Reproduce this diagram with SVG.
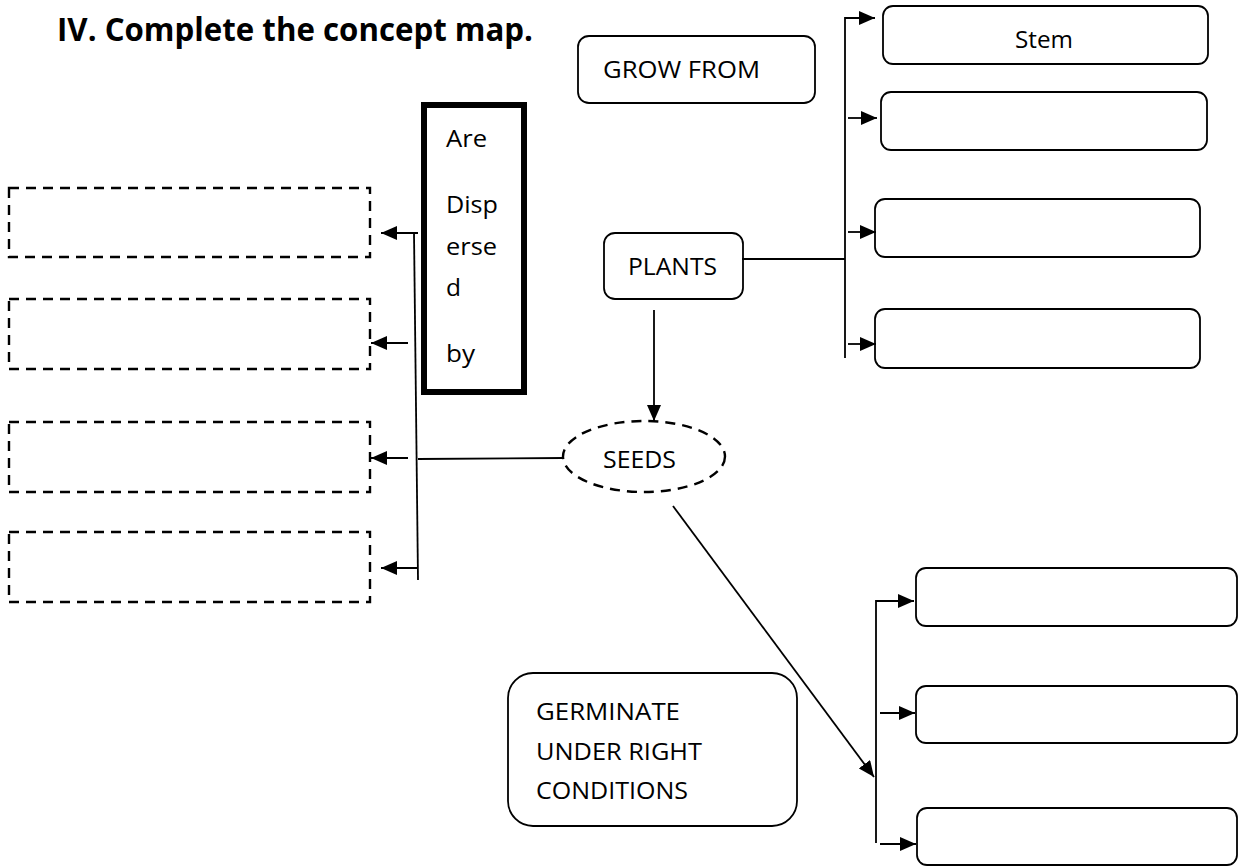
<svg xmlns="http://www.w3.org/2000/svg" width="1238" height="868" viewBox="0 0 1238 868">
<defs>
<style>
.t{font-family:"Open Sans","Liberation Sans",sans-serif;font-size:24.5px;fill:#000}
.title{font-family:"Open Sans","Liberation Sans",sans-serif;font-size:32px;font-weight:bold;fill:#000}
.box{fill:#fff;stroke:#000;stroke-width:1.8}
.dash{fill:none;stroke:#000;stroke-width:2.4;stroke-dasharray:10 7}
.ln{fill:none;stroke:#000;stroke-width:1.8}
</style>
<marker id="ah" viewBox="0 0 16 14" refX="16" refY="7" markerWidth="16" markerHeight="14" markerUnits="userSpaceOnUse" orient="auto">
<path d="M0,0 L16,7 L0,14 Z" fill="#000"/>
</marker>
</defs>
<rect width="1238" height="868" fill="#fff"/>
<text class="title" x="57" y="41" textLength="476" lengthAdjust="spacingAndGlyphs">IV. Complete the concept map.</text>

<g id="grow-from"><rect class="box" x="578" y="36" width="237" height="67" rx="11"/><text class="t" x="603" y="78" textLength="157" lengthAdjust="spacingAndGlyphs">GROW FROM</text></g>
<g id="stem"><rect class="box" x="883" y="6" width="325" height="58" rx="10"/><text class="t" x="1044" y="48" text-anchor="middle" textLength="58" lengthAdjust="spacingAndGlyphs">Stem</text></g>
<g id="part2"><rect class="box" x="881" y="92" width="326" height="58" rx="10"/></g>
<g id="part3"><rect class="box" x="875" y="199" width="325" height="58" rx="10"/></g>
<g id="part4"><rect class="box" x="875" y="309" width="325" height="59" rx="10"/></g>
<g id="plants"><rect class="box" x="604" y="233" width="139" height="66" rx="11"/><text class="t" x="628" y="275" textLength="89" lengthAdjust="spacingAndGlyphs">PLANTS</text></g>
<g id="dispersed"><rect x="424" y="105" width="100" height="287" fill="#fff" stroke="#000" stroke-width="6"/>
<text class="t" x="446" y="147" textLength="41" lengthAdjust="spacingAndGlyphs">Are</text>
<text class="t" x="446" y="213" textLength="52" lengthAdjust="spacingAndGlyphs">Disp</text>
<text class="t" x="446" y="255" textLength="51" lengthAdjust="spacingAndGlyphs">erse</text>
<text class="t" x="446" y="296">d</text>
<text class="t" x="446" y="362" textLength="29" lengthAdjust="spacingAndGlyphs">by</text></g>
<g id="agent1"><rect class="dash" x="9" y="188" width="361" height="69"/></g>
<g id="agent2"><rect class="dash" x="9" y="299" width="361" height="70"/></g>
<g id="agent3"><rect class="dash" x="9" y="422" width="361" height="70"/></g>
<g id="agent4"><rect class="dash" x="9" y="532" width="361" height="70"/></g>
<g id="seeds"><ellipse cx="644" cy="456.5" rx="81" ry="35.5" fill="#fff" stroke="#000" stroke-width="2.4" stroke-dasharray="10 7"/><text class="t" x="603" y="468" textLength="73" lengthAdjust="spacingAndGlyphs">SEEDS</text></g>
<g id="germinate"><rect class="box" x="508" y="673" width="289" height="153" rx="25"/>
<text class="t" x="536" y="720" textLength="144" lengthAdjust="spacingAndGlyphs">GERMINATE</text>
<text class="t" x="536" y="760" textLength="166" lengthAdjust="spacingAndGlyphs">UNDER RIGHT</text>
<text class="t" x="536" y="799" textLength="152" lengthAdjust="spacingAndGlyphs">CONDITIONS</text></g>
<g id="cond1"><rect class="box" x="916" y="568" width="321" height="58" rx="10"/></g>
<g id="cond2"><rect class="box" x="916" y="686" width="321" height="57" rx="10"/></g>
<g id="cond3"><rect class="box" x="917" y="808" width="320" height="57" rx="10"/></g>

<g id="connectors">
<path class="ln" d="M742,259 H845"/>
<path class="ln" d="M845,358 V18 H875" marker-end="url(#ah)"/>
<path class="ln" d="M848,118 H877" marker-end="url(#ah)"/>
<path class="ln" d="M848,232 H876" marker-end="url(#ah)"/>
<path class="ln" d="M848,344 H876" marker-end="url(#ah)"/>
<path class="ln" d="M654,310 V421" marker-end="url(#ah)"/>
<path class="ln" d="M564,458 L418,459"/>
<path class="ln" d="M414,233 L418,580"/>
<path class="ln" d="M418,233 H381" marker-end="url(#ah)"/>
<path class="ln" d="M408,343 H371" marker-end="url(#ah)"/>
<path class="ln" d="M408,458 H371" marker-end="url(#ah)"/>
<path class="ln" d="M418,568 H381" marker-end="url(#ah)"/>
<path class="ln" d="M673,506 L874,777" marker-end="url(#ah)"/>
<path class="ln" d="M876,843 V601 H914" marker-end="url(#ah)"/>
<path class="ln" d="M880,713 H915" marker-end="url(#ah)"/>
<path class="ln" d="M880,844 H916" marker-end="url(#ah)"/>
</g>
</svg>
